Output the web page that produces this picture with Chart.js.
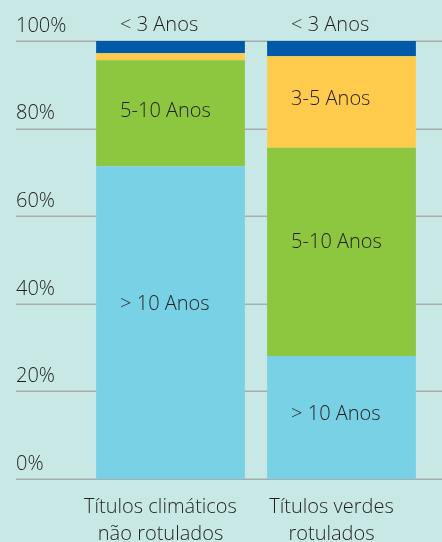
<!DOCTYPE html>
<html>
<head>
<meta charset="utf-8">
<script src="https://cdn.jsdelivr.net/npm/chart.js@4.4.1/dist/chart.umd.min.js"></script>
<style>
  html, body { margin: 0; padding: 0; background: #c8e8e6; }
  #wrap { width: 442px; height: 542px; }
</style>
</head>
<body>
<div id="wrap"><canvas id="bc-maturity"></canvas></div>
<script>
const categories = [
	["Títulos climáticos", "não rotulados"],
	["Títulos verdes", "rotulados"],
];
const seriesNames = ["> 10 Anos", "5-10 Anos", "3-5 Anos", "< 3 Anos"];
const over10 = [71.4, 28.1];
const from5to10 = [24.2, 47.5];
const from3to5 = [1.6, 20.9];
const under3 = [2.8, 3.5];
const yTicks = [0, 20, 40, 60, 80, 100];

const colors = ["#79d1e5", "#8dc63f", "#ffcb4d", "#005aa8"];
const textColor = "#231f20";
const fontFamily = "'Open Sans', Lato, sans-serif";
const fontWeight = 300;
const fontSize = 20;

// grid lines run wider than the chart area, so draw them from the y scale
const wideGrid = {
	id: "wideGrid",
	beforeDatasetsDraw(chart) {
		const yScale = chart.scales.y;
		const ctx = chart.ctx;
		ctx.save();
		ctx.strokeStyle = "#a3aeae";
		ctx.lineWidth = 1.5;
		yScale.ticks.forEach((t) => {
			const y = Math.round(yScale.getPixelForValue(t.value)) + 0.25;
			ctx.beginPath();
			ctx.moveTo(16, y);
			ctx.lineTo(chart.width, y);
			ctx.stroke();
		});
		ctx.restore();
	},
};

// segment captions, anchored at a value on the y scale
const segLabels = {
	id: "segLabels",
	afterDatasetsDraw(chart, args, opts) {
		const ctx = chart.ctx;
		const yScale = chart.scales.y;
		ctx.save();
		ctx.fillStyle = textColor;
		ctx.font = fontWeight + " " + fontSize + "px " + fontFamily;
		ctx.textAlign = "left";
		ctx.textBaseline = "middle";
		chart.data.datasets.forEach((ds, i) => {
			const meta = chart.getDatasetMeta(i);
			meta.data.forEach((bar, j) => {
				const at = opts.anchors[i][j];
				if (at === null) return;
				const x = bar.x - bar.width / 2 + 24;
				ctx.fillText(ds.label, x, yScale.getPixelForValue(at));
			});
		});
		ctx.restore();
	},
};

const series = [over10, from5to10, from3to5, under3];
const datasets = series.map((d, i) => ({
	label: seriesNames[i],
	data: d,
	backgroundColor: colors[i],
	borderWidth: 0,
	barPercentage: 0.87,
	categoryPercentage: 1,
}));

new Chart(document.getElementById("bc-maturity").getContext("2d"), {
	type: "bar",
	data: { labels: categories, datasets: datasets },
	plugins: [wideGrid, segLabels],
	options: {
		responsive: true,
		maintainAspectRatio: false,
		animation: false,
		layout: { padding: { top: 41, left: 16, right: 15, bottom: 0 } },
		scales: {
			x: {
				stacked: true,
				grid: { display: false, drawTicks: false },
				border: { display: false },
				ticks: {
					color: textColor,
					font: { family: fontFamily, size: fontSize, weight: fontWeight, lineHeight: 1.35 },
					padding: 15,
					maxRotation: 0,
					labelOffset: -10,
				},
				afterFit(scale) {
					scale.height = 63;
				},
			},
			y: {
				stacked: true,
				min: 0,
				max: 100,
				afterBuildTicks(scale) {
					scale.ticks = yTicks.map((v) => ({ value: v }));
				},
				grid: { display: false, drawTicks: false },
				border: { display: false },
				ticks: {
					color: textColor,
					font: { family: fontFamily, size: fontSize, weight: fontWeight },
					crossAlign: "far",
					labelOffset: -15,
					callback: (v) => v + "%",
				},
				afterFit(scale) {
					scale.width = 69;
				},
			},
		},
		plugins: {
			legend: { display: false },
			tooltip: { enabled: false },
			segLabels: {
				anchors: [
					[40, 14.7],
					[84, 54],
					[null, 86.8],
					[103.6, 103.6],
				],
			},
		},
	},
});
</script>
</body>
</html>
